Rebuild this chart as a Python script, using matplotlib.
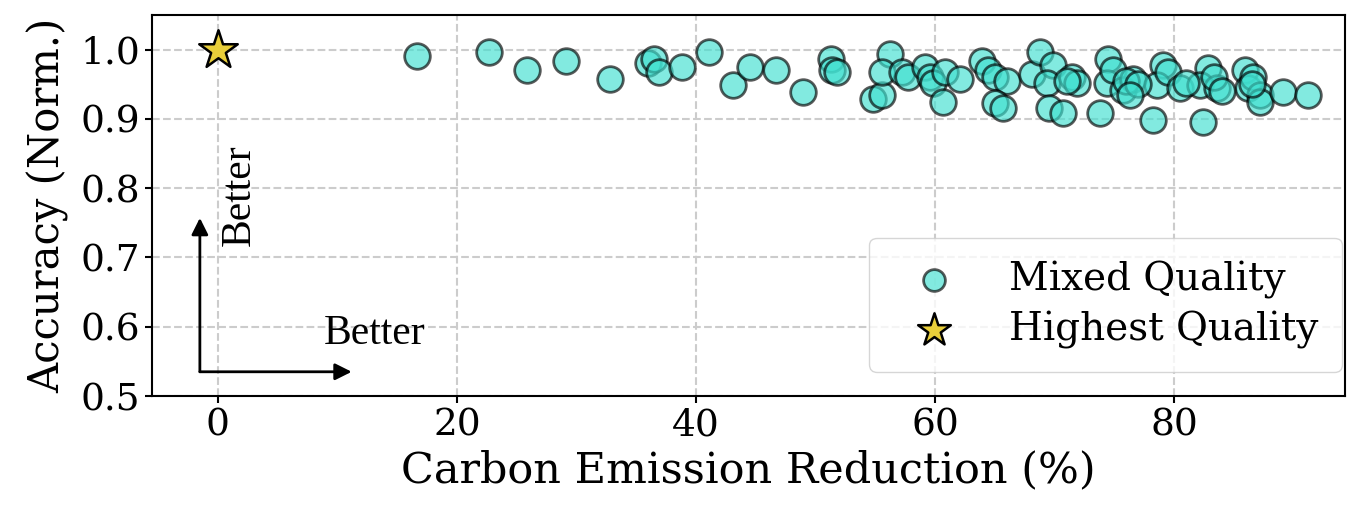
import matplotlib
matplotlib.use("Agg")
import matplotlib.pyplot as plt

mixed_x = [16.7, 22.7, 25.9, 29.1, 32.8, 36.0, 36.5, 36.9, 38.8, 41.1, 43.1, 44.5, 46.7, 48.95,
           51.3, 51.4, 51.8, 54.8, 55.6, 56.2, 55.6, 57.2, 57.7, 59.2, 59.6, 59.8, 60.8, 60.7,
           62.1, 63.9, 64.4, 65.0, 66.0, 65.0, 65.7, 68.1, 68.8, 69.9, 69.4, 69.5, 70.7, 71.5,
           71.9, 74.5, 74.4, 74.9, 75.7, 76.6, 73.8, 78.2, 79.1, 78.6, 79.5, 80.5, 82.4, 82.8,
           82.2, 83.6, 83.3, 85.9, 86.2, 86.6, 87.2, 87.2, 89.1, 91.2,
           76.0, 77.0, 81.0, 84.0, 86.5, 71.0, 76.3]
mixed_y = [0.990, 0.997, 0.970, 0.983, 0.957, 0.980, 0.986, 0.968, 0.975, 0.996, 0.949, 0.975,
           0.971, 0.938, 0.987, 0.971, 0.968, 0.928, 0.934, 0.994, 0.968, 0.967, 0.960, 0.975,
           0.961, 0.952, 0.967, 0.925, 0.957, 0.983, 0.971, 0.961, 0.954, 0.923, 0.916, 0.964,
           0.996, 0.978, 0.952, 0.916, 0.909, 0.960, 0.952, 0.986, 0.952, 0.971, 0.942, 0.957,
           0.909, 0.899, 0.978, 0.949, 0.967, 0.945, 0.895, 0.974, 0.949, 0.945, 0.961, 0.971,
           0.945, 0.961, 0.935, 0.925, 0.938, 0.935,
           0.955, 0.950, 0.952, 0.940, 0.950, 0.955, 0.935]
best_x = [0]
best_y = [1.0]

plt.rcParams['font.family'] = 'DejaVu Serif'
fig = plt.figure(figsize=(13.48, 5.13), dpi=100)
ax = fig.add_axes([0.1128, 0.228, 0.885, 0.743])

ax.scatter(mixed_x, mixed_y, s=340, c='#40E0D0', alpha=0.65, edgecolors='black',
           linewidths=2, label='Mixed Quality', zorder=3)
ax.scatter(best_x, best_y, s=850, marker='*', c='#E8CE3A', edgecolors='black',
           linewidths=1.8, label='Highest Quality', zorder=4)

ax.set_xlim(-5.5, 94.3)
ax.set_ylim(0.5, 1.05)
ax.set_xticks([0, 20, 40, 60, 80])
ax.set_yticks([0.5, 0.6, 0.7, 0.8, 0.9, 1.0])
ax.grid(True, linestyle='--', color='#cccccc', linewidth=1.5)
ax.set_axisbelow(True)
ax.tick_params(labelsize=27, width=1.5, length=5)
for sp in ax.spines.values():
    sp.set_linewidth(1.5)
ax.set_xlabel('Carbon Emission Reduction (%)', fontsize=31, labelpad=4)
ax.set_ylabel('Accuracy (Norm.)', fontsize=30, labelpad=8)

ax.annotate('', xy=(-1.5, 0.757), xytext=(-1.5, 0.535),
            arrowprops=dict(arrowstyle='-|>', color='black', lw=2, mutation_scale=25,
                            shrinkA=0, shrinkB=0))
ax.annotate('', xy=(11.2, 0.535), xytext=(-1.5, 0.535),
            arrowprops=dict(arrowstyle='-|>', color='black', lw=2, mutation_scale=25,
                            shrinkA=0, shrinkB=0))
ax.text(1.8, 0.79, 'Better', rotation=90, fontsize=30, family='Liberation Serif',
        ha='center', va='center')
ax.text(13.1, 0.59, 'Better', fontsize=30, family='Liberation Serif',
        ha='center', va='center')

leg = ax.legend(loc='lower right', bbox_to_anchor=(0.9975, 0.063), borderaxespad=0,
                prop={'family': 'DejaVu Serif', 'size': 28}, markerscale=0.85,
                frameon=True, borderpad=0.6, handlelength=2.1, handletextpad=0.9,
                labelspacing=0.3)
leg.get_frame().set_edgecolor('#cccccc')

fig.savefig('out.png', dpi=100)
